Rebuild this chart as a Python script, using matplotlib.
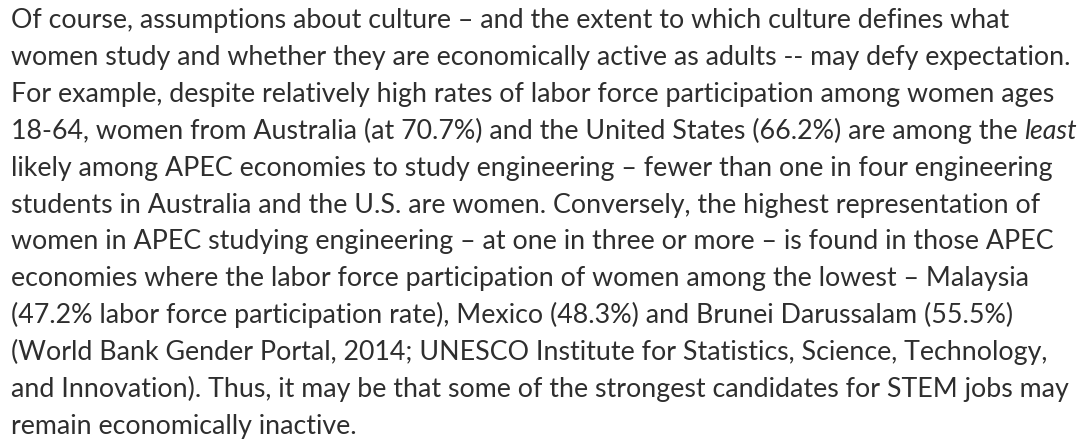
import matplotlib
matplotlib.use("Agg")
import matplotlib.pyplot as plt

# paragraph lines as they wrap in the reference
lines = [
    "Of course, assumptions about culture \u2013 and the extent to which culture defines what",
    "women study and whether they are economically active as adults -- may defy expectation.",
    "For example, despite relatively high rates of labor force participation among women ages",
    "18-64, women from Australia (at 70.7%) and the United States (66.2%) are among the",
    "likely among APEC economies to study engineering \u2013 fewer than one in four engineering",
    "students in Australia and the U.S. are women. Conversely, the highest representation of",
    "women in APEC studying engineering \u2013 at one in three or more \u2013 is found in those APEC",
    "economies where the labor force participation of women among the lowest \u2013 Malaysia",
    "(47.2% labor force participation rate), Mexico (48.3%) and Brunei Darussalam (55.5%)",
    "(World Bank Gender Portal, 2014; UNESCO Institute for Statistics, Science, Technology,",
    "and Innovation). Thus, it may be that some of the strongest candidates for STEM jobs may",
    "remain economically inactive.",
]
italic_word = "least"   # appended in italics to line 4
italic_line = 3

W, H = 1082, 446
x0 = 11
first_baseline = 28
pitch = 36.9
target_width = 1060   # pixel width of the longest line (line 2)
color = "#2e2e2e"
family = ["Lato", "DejaVu Sans"]

fig = plt.figure(figsize=(W / 100, H / 100), dpi=100)
ax = fig.add_axes([0, 0, 1, 1])
ax.set_xlim(0, W)
ax.set_ylim(H, 0)
ax.axis("off")

# fit font size to the longest line
probe = ax.text(0, 0, lines[1], fontsize=20, family=family)
fig.canvas.draw()
r = fig.canvas.get_renderer()
w20 = probe.get_window_extent(r).width
probe.remove()
fs = 20 * target_width / w20

texts = []
for i, s in enumerate(lines):
    t = ax.text(x0, first_baseline + i * pitch, s, fontsize=fs, family=family,
                color=color, va="baseline", ha="left")
    texts.append(t)

fig.canvas.draw()
r = fig.canvas.get_renderer()
# width of a space at this size
a = ax.text(0, 0, "x x", fontsize=fs, family=family)
b = ax.text(0, 0, "xx", fontsize=fs, family=family)
space = a.get_window_extent(r).width - b.get_window_extent(r).width
a.remove()
b.remove()
ext = texts[italic_line].get_window_extent(r)
ax.text(x0 + ext.width + space, first_baseline + italic_line * pitch, italic_word,
        fontsize=fs, family=family, style="italic", color=color,
        va="baseline", ha="left")

fig.savefig("out.png", dpi=100)
